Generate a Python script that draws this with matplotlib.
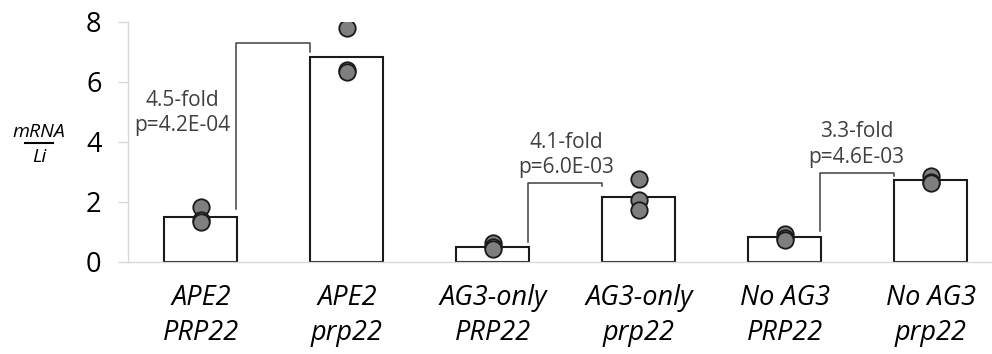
import matplotlib.pyplot as plt
import numpy as np

plt.rcParams['font.family'] = ['Open Sans', 'DejaVu Sans']

# data
labels = ['APE2\nPRP22', 'APE2\nprp22', 'AG3-only\nPRP22', 'AG3-only\nprp22',
          'No AG3\nPRP22', 'No AG3\nprp22']
means = [1.51, 6.84, 0.51, 2.18, 0.82, 2.73]
reps = [[1.82, 1.40, 1.33],
        [7.80, 6.40, 6.32],
        [0.62, 0.50, 0.42],
        [2.77, 2.07, 1.73],
        [0.95, 0.80, 0.72],
        [2.88, 2.68, 2.63]]

# brackets: (left bar, right bar, low y, top y, right end y)
brackets = [(0, 1, 1.77, 7.29, 7.01),
            (2, 3, 0.68, 2.62, 2.53),
            (4, 5, 1.03, 2.98, 2.88)]
notes = ['4.5-fold\np=4.2E-04', '4.1-fold\np=6.0E-03', '3.3-fold\np=4.6E-03']
note_pos = [(-0.13, 4.97), (2.50, 3.57), (4.49, 3.92)]

fig = plt.figure(figsize=(9.92, 3.54), dpi=100)
ax = fig.add_axes([128 / 992, 92 / 354, 864 / 992, 240 / 354])

x = np.arange(len(labels))
ax.bar(x, means, width=0.5, color='white', edgecolor='#1a1a1a', linewidth=1.5, zorder=2)

for i, r in enumerate(reps):
    ax.scatter([x[i]] * len(r), r, s=140, color='#7f7f7f', edgecolor='#1a1a1a',
               linewidth=1.3, zorder=3)

for a, b, lo, top, end in brackets:
    ax.plot([x[a] + 0.24, x[a] + 0.24, x[b] - 0.25, x[b] - 0.25], [lo, top, top, end],
            color='#404040', linewidth=1.1, zorder=1)

for t, (tx, ty) in zip(notes, note_pos):
    ax.text(tx, ty, t, ha='center', va='center', fontsize=15, color='#404040',
            linespacing=1.3)

ax.set_xlim(-0.5, 5.42)
ax.set_ylim(0, 8)
ax.set_yticks([0, 2, 4, 6, 8])
ax.set_xticks(x)
ax.set_xticklabels(labels, fontsize=19.5, style='italic', linespacing=1.32)
ax.tick_params(axis='x', length=0, pad=16)
ax.tick_params(axis='y', length=7, width=1, color='#d9d9d9', labelsize=19.5, pad=12)
for s in ['top', 'right']:
    ax.spines[s].set_visible(False)
for s in ['left', 'bottom']:
    ax.spines[s].set_color('#d9d9d9')
    ax.spines[s].set_linewidth(1)

# y label drawn as a fraction
fig.text(39 / 992, 1 - 132 / 354, 'mRNA', ha='center', va='center', fontsize=14, style='italic')
fig.add_artist(plt.Line2D([25 / 992, 53 / 992], [1 - 142.5 / 354] * 2, color='black', linewidth=1.5))
fig.text(39 / 992, 1 - 157 / 354, 'Li', ha='center', va='center', fontsize=14, style='italic')

fig.savefig('out.png', dpi=100)
